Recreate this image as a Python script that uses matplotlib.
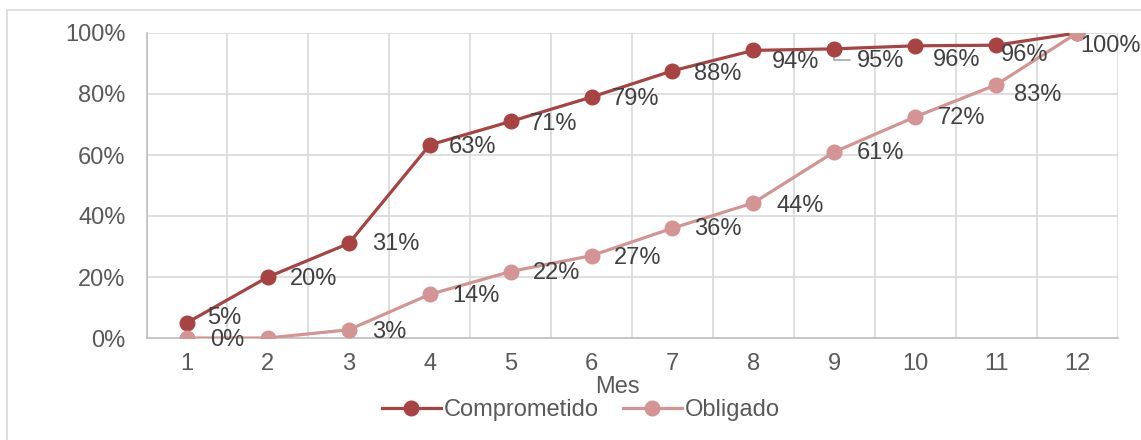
import matplotlib.pyplot as plt
from matplotlib.patches import Rectangle
from matplotlib.ticker import PercentFormatter, MultipleLocator

plt.rcParams['font.family'] = ['Liberation Sans', 'DejaVu Sans']

meses = [1, 2, 3, 4, 5, 6, 7, 8, 9, 10, 11, 12]
comprometido = [0.05, 0.20, 0.31, 0.633, 0.71, 0.79, 0.876, 0.943, 0.948, 0.958, 0.96, 1.00]
obligado = [0.0, 0.0, 0.027, 0.143, 0.218, 0.27, 0.36, 0.443, 0.61, 0.725, 0.83, 1.00]
etiq_comp = ['5%', '20%', '31%', '63%', '71%', '79%', '88%', '94%', '95%', '96%', '96%', '100%']
etiq_oblig = ['0%', '', '3%', '14%', '22%', '27%', '36%', '44%', '61%', '72%', '83%', '']

# label offsets in pixels (dx right, dy down)
off_comp = [(20, -5), (22, 2), (23, 1), (19, 2), (19, 3), (20, 2), (22, 3),
            (19, 12), (23, 12), (18, 14), (5, 10), (3, 13)]
off_oblig = [(23, 2), (0, 0), (23, 2), (23, 2), (22, 1), (22, 2), (22, 1),
             (23, 3), (22, 1), (23, 1), (18, 10), (0, 0)]

c_comp = '#A84343'
c_oblig = '#D49494'
gris = '#595959'
fs = 17

fig = plt.figure(figsize=(11.41, 4.4), dpi=100)
fig.patches.append(Rectangle((7 / 1141, -0.1), 1.2, 1.1 - 10 / 440,
                             transform=fig.transFigure, fill=False,
                             edgecolor='#D9D9D9', lw=1.2))
ax = fig.add_axes([146.5 / 1141, 1 - 338 / 440, 971 / 1141, 305 / 440])

ax.plot(meses, comprometido, color=c_comp, lw=2.3, marker='o', ms=10.5,
        label='Comprometido', zorder=3)
ax.plot(meses, obligado, color=c_oblig, lw=2.3, marker='o', ms=10.5,
        label='Obligado', zorder=4)

for x, y, t, (dx, dy) in zip(meses, comprometido, etiq_comp, off_comp):
    if t:
        ax.annotate(t, (x, y), xytext=(dx, -dy), textcoords='offset pixels',
                    ha='left', va='center', fontsize=fs, color='#404040', zorder=5)
for x, y, t, (dx, dy) in zip(meses, obligado, etiq_oblig, off_oblig):
    if t:
        ax.annotate(t, (x, y), xytext=(dx, -dy), textcoords='offset pixels',
                    ha='left', va='center', fontsize=fs, color='#404040', zorder=5)

# leader line for the 95% label
ax.annotate('', xy=(meses[8], comprometido[8]), xytext=(meses[8] + 0.19, comprometido[8] - 0.036),
            arrowprops=dict(arrowstyle='-', color='#A6A6A6', lw=1.2,
                            connectionstyle='angle,angleA=0,angleB=90,rad=0',
                            shrinkA=0, shrinkB=2), zorder=2)

ax.set_xlim(0.5, 12.5)
ax.set_ylim(0, 1)
ax.set_xticks(meses)
ax.xaxis.set_minor_locator(MultipleLocator(1, offset=0.5))
ax.yaxis.set_major_locator(MultipleLocator(0.2))
ax.yaxis.set_major_formatter(PercentFormatter(1.0, decimals=0))
ax.grid(True, which='minor', axis='x', color='#D9D9D9', lw=1.2)
ax.grid(True, which='major', axis='y', color='#D9D9D9', lw=1.2)
ax.set_axisbelow(True)
ax.tick_params(axis='both', which='both', length=0, labelsize=fs, labelcolor=gris)
ax.tick_params(axis='x', pad=11)
ax.tick_params(axis='y', pad=15)
for s in ['top', 'right']:
    ax.spines[s].set_visible(False)
for s in ['left', 'bottom']:
    ax.spines[s].set_color('#BFBFBF')
    ax.spines[s].set_linewidth(1.2)

ax.set_xlabel('Mes', fontsize=fs, color=gris, va='center')
ax.xaxis.set_label_coords((617 - 146.5) / 971, (338 - 387) / 305)

fig.legend(loc='center', bbox_to_anchor=(581 / 1141, 1 - 410 / 440), ncol=2,
           frameon=False, fontsize=fs, labelcolor=gris, handlelength=2.5,
           handletextpad=0.15, columnspacing=1.0, borderaxespad=0)

fig.savefig('out.png', dpi=100)
